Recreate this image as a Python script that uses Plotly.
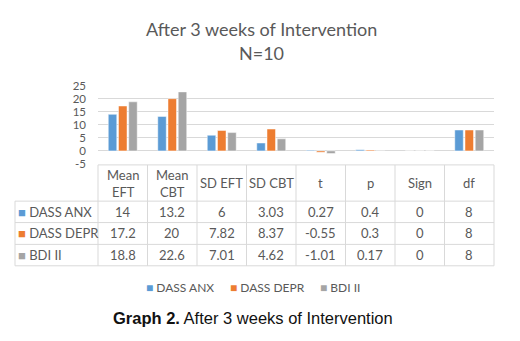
import plotly.graph_objects as go

categories = ["Mean EFT", "Mean CBT", "SD EFT", "SD CBT", "t", "p", "Sign", "df"]
header_labels = ["Mean<br>EFT", "Mean<br>CBT", "SD EFT", "SD CBT", "t", "p", "Sign", "df"]
series_names = ["DASS ANX", "DASS DEPR", "BDI II"]
dass_anx = [14, 13.2, 6, 3.03, 0.27, 0.4, 0, 8]
dass_depr = [17.2, 20, 7.82, 8.37, -0.55, 0.3, 0, 8]
bdi_ii = [18.8, 22.6, 7.01, 4.62, -1.01, 0.17, 0, 8]
series_values = [dass_anx, dass_depr, bdi_ii]
series_text = [
    ["14", "13.2", "6", "3.03", "0.27", "0.4", "0", "8"],
    ["17.2", "20", "7.82", "8.37", "-0.55", "0.3", "0", "8"],
    ["18.8", "22.6", "7.01", "4.62", "-1.01", "0.17", "0", "8"],
]
colors = ["#5B9BD5", "#ED7D31", "#A5A5A5"]
y_ticks = [-5, 0, 5, 10, 15, 20, 25]
y_tick_labels = ["-5", "0", "5", "10", "15", "20", "25"]

# page body has an 8px default margin; work in window pixels
OX, OY = 8, 8
W, H = 512, 333
FONT = "Lato"
GRAY = "#595959"
LINE = "#D9D9D9"

def px(x):
    return (x - OX) / W

def py(y):
    return 1 - (y - OY) / H

x_left, x_right = 98, 494
col_w = (x_right - x_left) / len(categories)
y_top_val, y_bot_val = 81.5, 163

fig = go.Figure()
for name, vals, col in zip(series_names, series_values, colors):
    fig.add_trace(go.Bar(
        x=categories, y=vals, name=name, showlegend=False,
        marker=dict(color=col, line=dict(color="rgba(255,255,255,0.6)", width=0.8)),
    ))

shapes = []
annotations = []

# table geometry
t_top, t_hdr, t_rows = 164, 201.7, [224, 246.7, 269]
t_left = 15
bounds = [x_left + i * col_w for i in range(len(categories) + 1)]
shapes.append(dict(type="line", xref="paper", yref="paper", x0=px(x_left), x1=px(x_right),
                   y0=py(t_top), y1=py(t_top), line=dict(color=LINE, width=1)))
for yy in [t_hdr] + t_rows:
    shapes.append(dict(type="line", xref="paper", yref="paper", x0=px(t_left), x1=px(x_right),
                       y0=py(yy), y1=py(yy), line=dict(color=LINE, width=1)))
for bx in bounds:
    shapes.append(dict(type="line", xref="paper", yref="paper", x0=px(bx), x1=px(bx),
                       y0=py(t_top), y1=py(t_rows[-1]), line=dict(color=LINE, width=1)))
shapes.append(dict(type="line", xref="paper", yref="paper", x0=px(t_left), x1=px(t_left),
                   y0=py(t_hdr), y1=py(t_rows[-1]), line=dict(color=LINE, width=1)))

hdr_c = (t_top + t_hdr) / 2
for i, lab in enumerate(header_labels):
    annotations.append(dict(xref="paper", yref="paper", x=px(x_left + col_w * (i + 0.5)), y=py(hdr_c),
                            text=lab, showarrow=False, xanchor="center", yanchor="middle",
                            font=dict(family=FONT, size=13, color=GRAY)))
row_edges = [t_hdr] + t_rows
for r, (name, texts, col) in enumerate(zip(series_names, series_text, colors)):
    rc = (row_edges[r] + row_edges[r + 1]) / 2
    annotations.append(dict(xref="paper", yref="paper", x=px(t_left + 1), y=py(rc),
                            text=f"<span style='color:{col}'>■</span> {name}", showarrow=False,
                            xanchor="left", yanchor="middle",
                            font=dict(family=FONT, size=13, color=GRAY)))
    for i, tx in enumerate(texts):
        annotations.append(dict(xref="paper", yref="paper", x=px(x_left + col_w * (i + 0.5)), y=py(rc),
                                text=tx, showarrow=False, xanchor="center", yanchor="middle",
                                font=dict(family=FONT, size=13, color=GRAY)))

# legend drawn as text items
legend_x = [144, 228, 318]
for name, col, lx in zip(series_names, colors, legend_x):
    annotations.append(dict(xref="paper", yref="paper", x=px(lx), y=py(292),
                            text=f"<span style='color:{col}'>■</span> {name}", showarrow=False,
                            xanchor="left", yanchor="middle",
                            font=dict(family=FONT, size=12, color=GRAY)))

# title
annotations.append(dict(xref="paper", yref="paper", x=px(261), y=py(23), text="After 3 weeks of Intervention",
                        showarrow=False, xanchor="center", yanchor="middle",
                        font=dict(family=FONT, size=18, color=GRAY)))
annotations.append(dict(xref="paper", yref="paper", x=px(261), y=py(48), text="N=10",
                        showarrow=False, xanchor="center", yanchor="middle",
                        font=dict(family=FONT, size=18, color=GRAY)))
# caption
annotations.append(dict(xref="paper", yref="paper", x=px(252.5), y=py(323),
                        text="<b>Graph 2.</b> After 3 weeks of Intervention",
                        showarrow=False, xanchor="center", yanchor="middle",
                        font=dict(family="Liberation Sans", size=16.5, color="#111111")))

fig.update_layout(
    width=W, height=H,
    margin=dict(l=0, r=0, t=0, b=0),
    paper_bgcolor="white", plot_bgcolor="white",
    barmode="group", bargap=0.38, bargroupgap=0.17,
    xaxis=dict(domain=[px(x_left), px(x_right)], showticklabels=False, showgrid=False,
               zeroline=False, showline=False, ticks=""),
    yaxis=dict(domain=[py(y_bot_val), py(y_top_val)], range=[-5, 25], tickvals=y_ticks,
               ticktext=y_tick_labels,
               showgrid=True, gridcolor=LINE, gridwidth=1, zeroline=True, zerolinecolor=LINE,
               zerolinewidth=1, ticks="", ticklabelstandoff=11,
               tickfont=dict(family=FONT, size=11.5, color=GRAY)),
    shapes=shapes, annotations=annotations,
    showlegend=False,
)

fig.write_html("out.html")
